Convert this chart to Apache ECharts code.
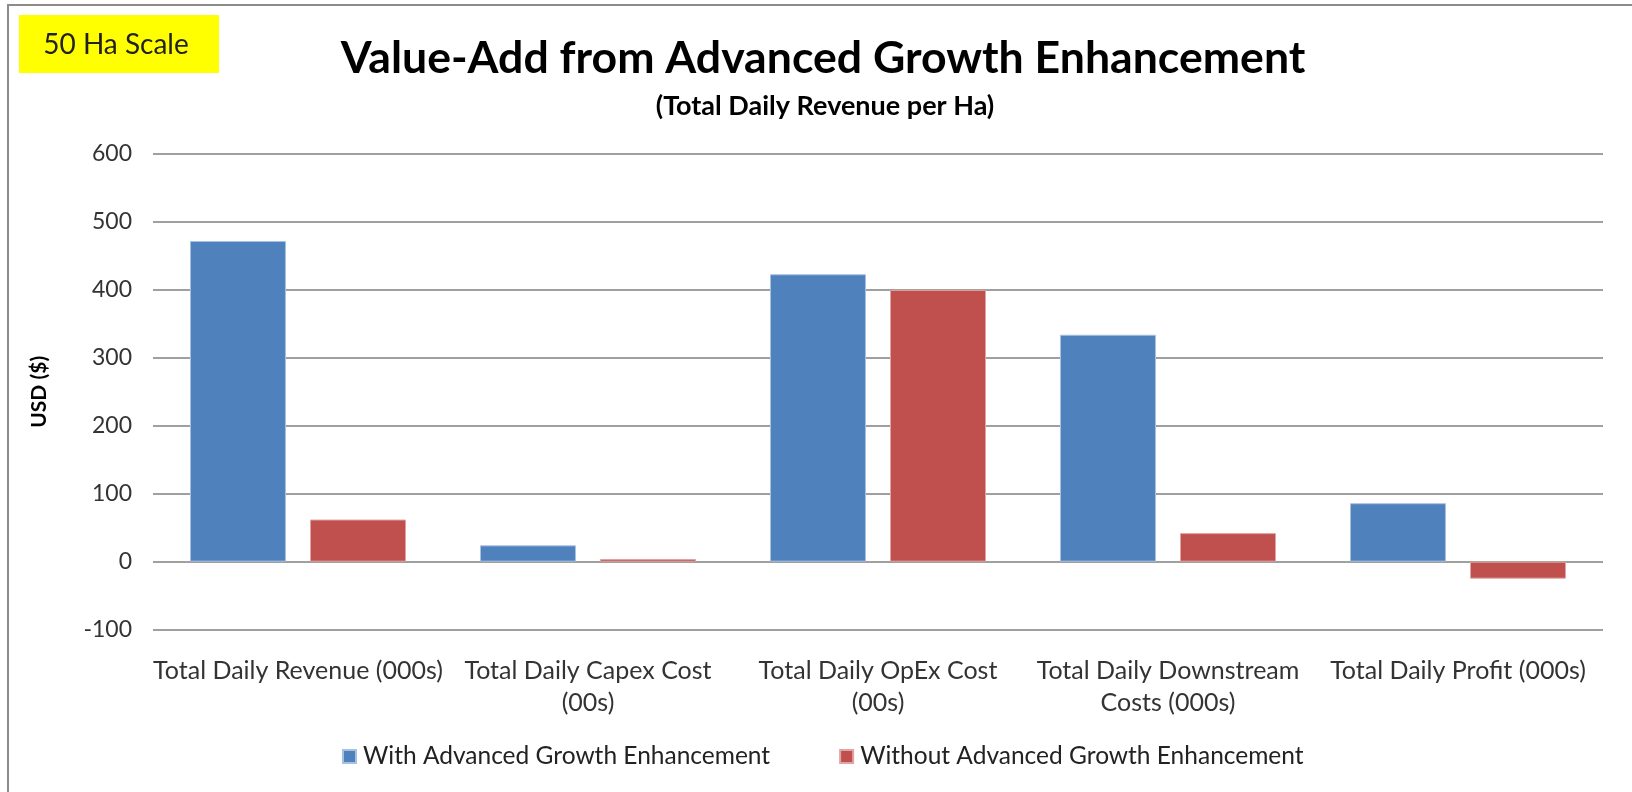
<!DOCTYPE html>
<html>
<head>
<meta charset="utf-8">
<script src="https://cdn.jsdelivr.net/npm/echarts@6/dist/echarts.min.js"></script>
<style>
html,body{margin:0;padding:0;background:#fff;}
#chart{width:1632px;height:792px;}
</style>
</head>
<body>
<div id="chart"></div>
<script>
var categories = ['Total Daily Revenue (000s)', 'Total Daily Capex Cost\n(00s)', 'Total Daily OpEx Cost\n(00s)', 'Total Daily Downstream\nCosts (000s)', 'Total Daily Profit (000s)'];
var seriesNames = ['With Advanced Growth Enhancement', 'Without Advanced Growth Enhancement'];
var withValues = [472, 24, 423, 334, 86];
var withoutValues = [62, 4, 400, 42, -25];
var yTicks = [-100, 600, 100];

var FONT = 'Lato';
var chart = echarts.init(document.getElementById('chart'), null, {renderer: 'canvas'});
chart.setOption({
  backgroundColor: '#ffffff',
  animation: false,
  title: [{
    text: 'Value-Add from Advanced Growth Enhancement',
    left: 818, top: 31, textAlign: 'center',
    textStyle: {fontFamily: FONT, fontWeight: 'bold', fontSize: 44.6, color: '#000'}
  }, {
    text: '(Total Daily Revenue per Ha)',
    left: 820, top: 88, textAlign: 'center',
    textStyle: {fontFamily: FONT, fontWeight: 'bold', fontSize: 27, color: '#000'}
  }],
  graphic: [{
    type: 'rect', shape: {x: 8, y: 5, width: 1640, height: 800},
    style: {fill: 'none', stroke: '#8c8c8c', lineWidth: 2}, silent: true, z: 0
  }, {
    type: 'rect', shape: {x: 19, y: 15, width: 200, height: 58},
    style: {fill: '#ffff00'}, z: 1
  }, {
    type: 'text', x: 116, y: 45, z: 2,
    style: {text: '50 Ha Scale', fontFamily: FONT, fontSize: 28, fill: '#222', align: 'center', verticalAlign: 'middle'}
  }],
  legend: {
    data: seriesNames,
    left: 337, top: 739,
    itemWidth: 13, itemHeight: 13, itemGap: 69,
    icon: 'rect',
    textStyle: {fontFamily: FONT, fontSize: 24.5, color: '#222', padding: [0, 0, 0, 2]}
  },
  grid: {left: 153, right: 29, top: 154, bottom: 162.4, containLabel: false},
  xAxis: {
    type: 'category', data: categories,
    axisLine: {show: false}, axisTick: {show: false},
    axisLabel: {fontFamily: FONT, fontSize: 25, color: '#333', margin: 25, lineHeight: 32, interval: 0}
  },
  yAxis: {
    type: 'value', min: yTicks[0], max: yTicks[1], interval: yTicks[2],
    name: 'USD ($)', nameLocation: 'middle', nameGap: 103, nameRotate: 90,
    nameTextStyle: {fontFamily: FONT, fontWeight: 'bold', fontSize: 21, color: '#000'},
    axisLine: {show: false}, axisTick: {show: false},
    axisLabel: {fontFamily: FONT, fontSize: 23, color: '#333', margin: 21},
    splitLine: {lineStyle: {color: '#a0a0a0', width: 2}}
  },
  series: [{
    name: seriesNames[0], type: 'bar', data: withValues,
    barGap: '25%', barCategoryGap: '25.5%',
    itemStyle: {color: '#4f81bd', borderColor: '#a9c1e0', borderWidth: 1}
  }, {
    name: seriesNames[1], type: 'bar', data: withoutValues,
    itemStyle: {color: '#c0504d', borderColor: '#e0a4a2', borderWidth: 1}
  }]
});
</script>
</body>
</html>
